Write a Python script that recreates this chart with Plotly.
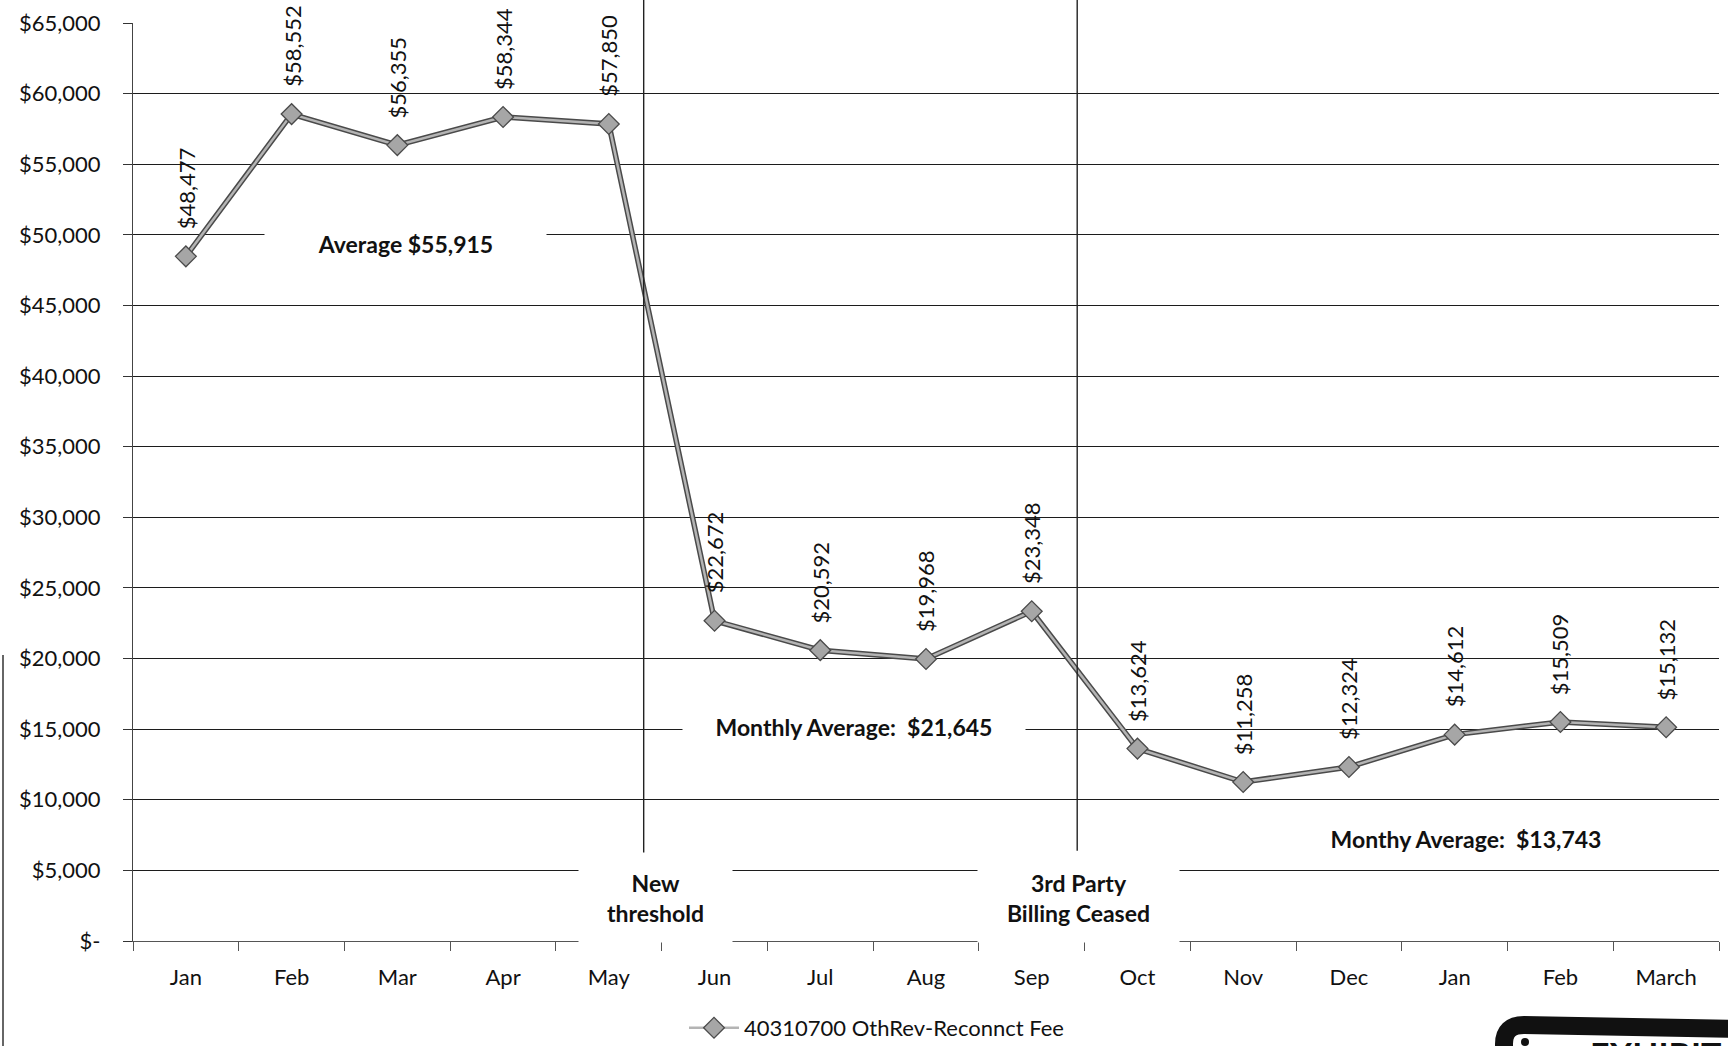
import plotly.graph_objects as go

# Monthly reconnect-fee revenue, account 40310700
months = ["Jan", "Feb", "Mar", "Apr", "May", "Jun", "Jul", "Aug", "Sep",
          "Oct", "Nov", "Dec", "Jan", "Feb", "March"]
fees = [48477, 58552, 56355, 58344, 57850, 22672, 20592, 19968, 23348,
        13624, 11258, 12324, 14612, 15509, 15132]
series_name = "40310700 OthRev-Reconnct Fee"

y_ticks = [0, 5000, 10000, 15000, 20000, 25000, 30000, 35000, 40000,
           45000, 50000, 55000, 60000, 65000]
y_tick_text = ["$-", "$5,000", "$10,000", "$15,000", "$20,000", "$25,000",
               "$30,000", "$35,000", "$40,000", "$45,000", "$50,000",
               "$55,000", "$60,000", "$65,000"]

# period boundaries (category position) and the notes printed beside them
events = [(4.33, "New<br>threshold", 4.44, 6260, 151),
          (8.43, "3rd Party<br>Billing Ceased", 8.445, 6390, 199)]
averages = [(2.08, 49355, "Average $55,915", 279, 52, True),
            (6.32, 15143, "Monthly Average:  $21,645", 340, 50, True),
            (12.11, 7229, "Monthy Average:  $13,743", 300, 40, False)]

FONT = "Lato, 'DejaVu Sans', sans-serif"
W_PAGE, H_PAGE = 1728, 1046
L, R, T, B = 133, 9, 23, 105
PW, PH = W_PAGE - L - R, H_PAGE - T - B


def px_x(p):
    return (p - L) / PW


def px_y(p):
    return (H_PAGE - B - p) / PH


x = list(range(len(months)))

fig = go.Figure()
# dark rim under the line gives the embossed look
fig.add_trace(go.Scatter(x=x, y=fees, mode="lines",
                         line=dict(color="#4a4a4a", width=5.5),
                         hoverinfo="skip", showlegend=False))
fig.add_trace(go.Scatter(x=x, y=fees, mode="lines+markers", name=series_name,
                         line=dict(color="#b4b4b4", width=2.5),
                         marker=dict(symbol="diamond", size=16, color="#a6a6a6",
                                     line=dict(color="#4a4a4a", width=1.3))))

annotations = []
for xi, v in zip(x, fees):
    annotations.append(dict(x=xi, y=v, xref="x", yref="y", text=f"${v:,}",
                            textangle=-90, yshift=68, showarrow=False,
                            font=dict(family=FONT, size=22, color="#111")))

for xa, ya, txt, w, h, boxed in averages:
    annotations.append(dict(x=xa, y=ya, xref="x", yref="y", text=f"<b>{txt}</b>",
                            showarrow=False, width=w, height=h,
                            bgcolor="white" if boxed else "rgba(0,0,0,0)",
                            font=dict(family=FONT, size=23, color="#111")))

shapes = []
for xl, txt, xt, ybot, bw in events:
    shapes.append(dict(type="line", xref="x", yref="paper", x0=xl, x1=xl,
                       y0=ybot / 65000, y1=px_y(0),
                       line=dict(color="#222", width=1.4)))
    annotations.append(dict(x=xt, y=3050, xref="x", yref="y", text=f"<b>{txt}</b>",
                            showarrow=False, width=bw, height=86, bgcolor="white",
                            font=dict(family=FONT, size=23, color="#111")))

# page edge and the exhibit sticker in the corner
shapes.append(dict(type="line", xref="paper", yref="paper",
                   x0=px_x(3), x1=px_x(3), y0=px_y(655), y1=px_y(1046),
                   line=dict(color="#333", width=1.5)))
sticker = (f"M {px_x(1504)},{px_y(1060)} L {px_x(1504)},{px_y(1044)} "
           f"Q {px_x(1504)},{px_y(1025)} {px_x(1524)},{px_y(1025)} "
           f"L {px_x(1740)},{px_y(1029)}")
shapes.append(dict(type="path", xref="paper", yref="paper", path=sticker,
                   line=dict(color="#111", width=18)))
shapes.append(dict(type="circle", xref="paper", yref="paper",
                   x0=px_x(1521), x1=px_x(1529), y0=px_y(1038), y1=px_y(1046),
                   fillcolor="#111", line=dict(width=0)))
annotations.append(dict(x=px_x(1588), y=px_y(1054), xref="paper", yref="paper",
                        xanchor="left", yanchor="middle", showarrow=False,
                        text="<b>EXHIBIT</b>",
                        font=dict(family=FONT, size=34, color="#111")))

fig.update_layout(
    width=W_PAGE, height=H_PAGE,
    margin=dict(l=L, r=R, t=T, b=B, pad=0, autoexpand=False),
    paper_bgcolor="white", plot_bgcolor="white",
    font=dict(family=FONT, size=22, color="#111"),
    showlegend=True,
    legend=dict(x=px_x(684), y=px_y(1028), xanchor="left", yanchor="middle",
                orientation="h", font=dict(family=FONT, size=22, color="#111"),
                bgcolor="rgba(0,0,0,0)", itemwidth=50),
    annotations=annotations, shapes=shapes,
    xaxis=dict(range=[-0.5, len(months) - 0.5], tickmode="array", tickvals=x,
               ticktext=months, ticks="", showgrid=False, zeroline=False,
               showline=True, linecolor="#555", linewidth=1.3,
               ticklabelstandoff=16,
               minor=dict(tickmode="array",
                          tickvals=[i - 0.5 for i in range(len(months) + 1)],
                          ticks="outside", ticklen=9, tickcolor="#555",
                          tickwidth=1.2, showgrid=False),
               fixedrange=True),
    yaxis=dict(range=[0, 65000], tickmode="array", tickvals=y_ticks,
               ticktext=y_tick_text, ticks="outside", ticklen=9,
               tickcolor="#333", tickwidth=1.2,
               showgrid=True, gridcolor="#1c1c1c", gridwidth=1.4,
               zeroline=False, showline=True, linecolor="#444", linewidth=1.3,
               ticklabelstandoff=18, fixedrange=True),
)

fig.write_html("out.html", config={"displayModeBar": False})
